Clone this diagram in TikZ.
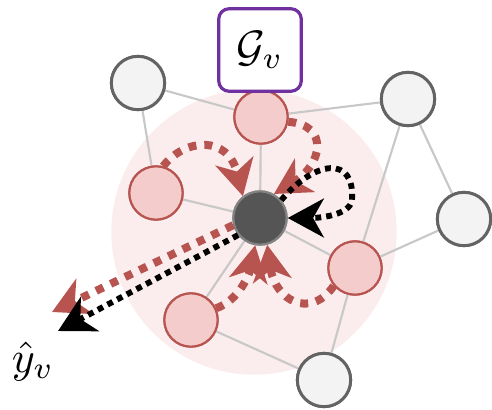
\documentclass[tikz,border=0pt]{standalone}
\usepackage{graphicx}
\usetikzlibrary{arrows.meta}
\definecolor{halo}{HTML}{FBEDED}
\definecolor{edgegray}{HTML}{C8C8C8}
\definecolor{nodegray}{HTML}{F3F3F3}
\definecolor{rimgray}{HTML}{636363}
\definecolor{pinkfill}{HTML}{F3CCCB}
\definecolor{brick}{HTML}{B85450}
\definecolor{coregray}{HTML}{555555}
\definecolor{violet}{HTML}{7030A0}
\tikzset{
  plain/.style={circle, draw=rimgray, line width=2.2pt, fill=nodegray, minimum size=40pt, inner sep=0pt},
  hop/.style={circle, draw=brick, line width=1.6pt, fill=pinkfill, minimum size=40pt, inner sep=0pt},
  core/.style={circle, draw=rimgray!80, line width=1.6pt, fill=coregray, minimum size=40pt, inner sep=0pt},
  link/.style={draw=edgegray, line width=1.6pt},
  msg/.style={draw=brick, line width=6pt, dash pattern=on 6pt off 6pt,
    -{Stealth[length=27pt, width=29pt, inset=8pt, fill=brick]}},
  readout/.style={draw=black, line width=4.4pt, dash pattern=on 4.4pt off 3.8pt,
    -{Stealth[length=27pt, width=29pt, inset=8pt, fill=black]}},
  framebox/.style={draw=violet, line width=2.4pt, rounded corners=8pt, fill=white,
    minimum width=62pt, minimum height=62pt, inner sep=0pt},
}
\begin{document}
\begin{tikzpicture}[x=0.75pt, y=-0.75pt]
\useasboundingbox (0,0) rectangle (492,410);

% receptive field of the target node
\fill[halo] (254,232) circle[radius=107pt];

% node positions (drawn after the edges)
\node[core] (c) at (260,218) {};
\node[hop] (pt) at (261,117) {};
\node[hop] (pl) at (156,193) {};
\node[hop] (pr) at (355,268) {};
\node[hop] (pb) at (191,320) {};
\node[plain] (gtl) at (138,83) {};
\node[plain] (gtr) at (408,99) {};
\node[plain] (gr) at (464,219) {};
\node[plain] (gb) at (324,380) {};

% edges
\path[link] (gtl) -- (pt) (gtl) -- (pl) (pt) -- (gtr) (pt) -- (c) (pl) -- (c)
  (gtr) -- (gr) (gtr) -- (pr) (gr) -- (pr) (c) -- (pr) (c) -- (pb)
  (pr) -- (gb) (pb) -- (gb);

% nodes again, over the edges
\node[core] at (c) {};
\node[hop] at (pt) {};
\node[hop] at (pl) {};
\node[hop] at (pr) {};
\node[hop] at (pb) {};
\node[plain] at (gtl) {};
\node[plain] at (gtr) {};
\node[plain] at (gr) {};
\node[plain] at (gb) {};

% messages from the neighbours
\draw[msg] (pt.-10) .. controls (330,125) and (322,165) .. (c.60);
\draw[msg] (pl.75) .. controls (185,138) and (228,135) .. (c.128);
\draw[msg] (pb.25) .. controls (240,300) and (250,272) .. (c.-100);
\draw[msg] (pr.220) .. controls (310,320) and (275,300) .. (c.-75);

% self message
\draw[readout] (c.40) .. controls (315,160) and (355,155) .. (352,200)
  .. controls (350,215) and (320,218) .. (c.0);

% prediction
\coordinate (outR) at (52,312);
\coordinate (outK) at (58,331);
\draw[msg] (c.195) -- (outR);
\draw[readout] (c.218) -- (outK);

% labels
\node[framebox] (title) at (260,50) {\scalebox{3.3}{$\mathcal{G}_v$}};
\node[inner sep=0pt] (yhat) at (33,361) {\scalebox{3.3}{$\hat{y}_v$}};
\end{tikzpicture}
\end{document}
